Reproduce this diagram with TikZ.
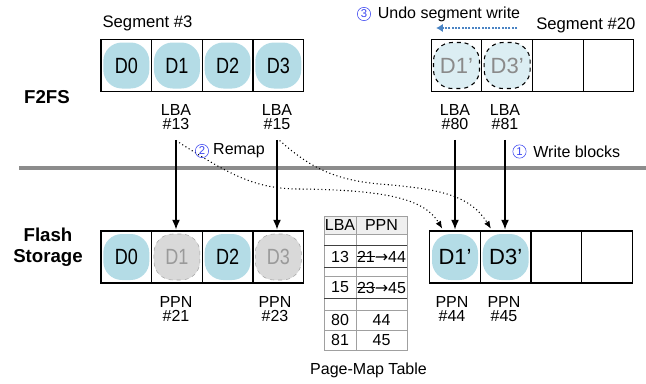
\documentclass[tikz,border=0pt]{standalone}
\usepackage{fontspec}
\setmainfont{Liberation Sans}
\newfontfamily\symfont{DejaVu Sans}
\usetikzlibrary{arrows.meta,positioning}
\newcommand\struck[1]{\leavevmode\setbox0\hbox{#1}\rlap{\rule[0.32em]{\wd0}{0.45pt}}\box0}
\newcommand\slim[1]{\scalebox{0.82}[1]{#1}}
\definecolor{Blob}{HTML}{B4DCE6}
\definecolor{PaleBlob}{HTML}{DCEEF3}
\definecolor{GhostFill}{HTML}{D9D9D9}
\definecolor{GhostLine}{HTML}{A6A6A6}
\definecolor{GhostText}{HTML}{9A9A9A}
\definecolor{FadeText}{HTML}{8A8A8A}
\definecolor{Divider}{HTML}{8C8C8C}
\definecolor{StepBlue}{HTML}{3A45F0}
\definecolor{UndoBlue}{HTML}{4A84C4}
\definecolor{TabLine}{HTML}{A0A0A0}
\definecolor{TabHead}{HTML}{EFEFEF}
\begin{document}
\begin{tikzpicture}[x=0.75pt,y=-0.75pt,
  every node/.style={font=\fontsize{12}{10.5}\selectfont,align=center,inner sep=1pt},
  cell/.style={draw,line width=0.9pt,minimum width=38pt,minimum height=39pt,outer sep=0pt},
  blob/.style={rounded corners=14pt,fill=Blob,minimum size=34.5pt,font=\fontsize{16.5}{18}\selectfont},
  ghost/.style={blob,fill=GhostFill,draw=GhostLine,dashed,text=GhostText},
  undone/.style={blob,fill=PaleBlob,draw,dashed,line width=0.8pt,text=FadeText},
  layer/.style={font=\fontsize{14}{15.5}\selectfont\bfseries},
  num/.style={circle,draw=StepBlue,text=StepBlue,line width=0.4pt,inner sep=0pt,minimum size=10pt,font=\fontsize{8.5}{8.5}\selectfont},
  tab/.style={font=\fontsize{12}{12}\selectfont},
  arr/.style={-{Latex[length=2.6mm,width=2.1mm]},line width=1.1pt,shorten <=6.5pt,shorten >=1pt},
  remap/.style={-{Latex[length=2mm,width=1.6mm]},dotted,line width=0.8pt,shorten >=2pt},
  undo/.style={-{Latex[length=1.8mm,width=2.2mm]},UndoBlue,line width=1.6pt,dash pattern=on 1.5pt off 1pt}
]
\useasboundingbox (0,0) rectangle (646,383);
% layers
\node[layer] (fs) at (47,97) {F2FS};
\node[layer] (flash) at (48,247) {Flash\\Storage};
\draw[Divider,line width=3pt] (19,168) -- (646,168);
% F2FS segments
\node[anchor=west,font=\fontsize{12.5}{14}\selectfont] (seg3) at (101,23) {Segment \#3};
\node[cell] (ta1) at (126.3,65.5) {};
\node[cell,right=0pt of ta1] (ta2) {};
\node[cell,right=0pt of ta2] (ta3) {};
\node[cell,right=0pt of ta3] (ta4) {};
\node[blob] (dA0) at (ta1) {\slim{D0}};
\node[blob] (dA1) at (ta2) {\slim{D1}};
\node[blob] (dA2) at (ta3) {\slim{D2}};
\node[blob] (dA3) at (ta4) {\slim{D3}};
\node[anchor=east,font=\fontsize{12.5}{14}\selectfont] (seg20) at (637,25) {Segment \#20};
\node[cell] (tb1) at (456.5,65.5) {};
\node[cell,right=0pt of tb1] (tb2) {};
\node[cell,right=0pt of tb2] (tb3) {};
\node[cell,right=0pt of tb3] (tb4) {};
\node[undone] (dB1) at (tb1) {D1’};
\node[undone] (dB3) at (tb2) {D3’};
\node (l13) at (176,117) {LBA\\\#13};
\node (l15) at (277,117) {LBA\\\#15};
\node (l80) at (455,117) {LBA\\\#80};
\node (l81) at (505,117) {LBA\\\#81};
% undo
\node[num] (n3) at (364,14) {3};
\node[right=4pt of n3] (undotxt) {Undo segment write};
\coordinate (undoS) at (517,28);
\coordinate (undoE) at (436,28);
\draw[undo] (undoS) -- (undoE);
% flash segments
\node[cell] (ba1) at (126.3,257) {};
\node[cell,right=0pt of ba1] (ba2) {};
\node[cell,right=0pt of ba2] (ba3) {};
\node[cell,right=0pt of ba3] (ba4) {};
\node[blob] (fA0) at (ba1) {\slim{D0}};
\node[ghost] (fA1) at (ba2) {\slim{D1}};
\node[blob] (fA2) at (ba3) {\slim{D2}};
\node[ghost] (fA3) at (ba4) {\slim{D3}};
\node[cell] (bb1) at (455,257) {};
\node[cell,right=0pt of bb1] (bb2) {};
\node[cell,right=0pt of bb2] (bb3) {};
\node[cell,right=0pt of bb3] (bb4) {};
\node[blob] (fB1) at (bb1) {D1’};
\node[blob] (fB3) at (bb2) {D3’};
\node (p21) at (176,309) {PPN\\\#21};
\node (p23) at (275,309) {PPN\\\#23};
\node (p44) at (452,309) {PPN\\\#44};
\node (p45) at (504,309) {PPN\\\#45};
% writes and remaps
\draw[arr] (l13.south) -- (l13.south |- ba2.north);
\draw[arr] (l15.south) -- (l15.south |- ba4.north);
\draw[arr] (l80.south) -- (l80.south |- bb1.north);
\draw[arr] (l81.south) -- (l81.south |- bb2.north);
\draw[remap] ([yshift=-7pt]l13.south) .. controls (230,175) and (255,189) .. (300,189)
  .. controls (390,190) and (425,200) .. ([xshift=-8.5pt]bb1.north);
\draw[remap] ([xshift=2pt,yshift=-7pt]l15.south) .. controls (305,163) and (330,180) .. (380,184)
  .. controls (440,189) and (470,195) .. ([xshift=-10pt]bb2.north);
\node[num] (n2) at (202,151) {2};
\node[right=2pt of n2] (remaptxt) {Remap};
\node[num] (n1) at (519.5,151.5) {1};
\node[right=4pt of n1] (writetxt) {Write blocks};
% page-map table
\fill[TabHead] (324,216) rectangle (407,234);
\draw[TabLine,line width=0.5pt] (324,216) rectangle (407,350);
\draw[TabLine,line width=0.5pt] (356,216) -- (356,350);
\draw[TabLine,line width=0.5pt] (324,234) -- (407,234) (324,276) -- (407,276) (324,310) -- (407,310) (324,330) -- (407,330);
\draw[black!75,line width=0.5pt] (324,245) -- (407,245) (324,267) -- (407,267) (324,298) -- (407,298);
\node[tab] (hl) at (340,225) {LBA};
\node[tab] (hp) at (381.5,225) {PPN};
\node[tab] (r13) at (340,256.5) {13};
\node[tab] (q13) at (381.5,256.5) {\struck{21}{\symfont→}44};
\node[tab] (r15) at (340,287.5) {15};
\node[tab] (q15) at (381.5,287.5) {\struck{23}{\symfont→}45};
\node[tab] (r80) at (340,320) {80};
\node[tab] (q80) at (381.5,320) {44};
\node[tab] (r81) at (340,340) {81};
\node[tab] (q81) at (381.5,340) {45};
\node[tab] (pmt) at (368.5,370) {Page-Map Table};
\end{tikzpicture}
\end{document}
